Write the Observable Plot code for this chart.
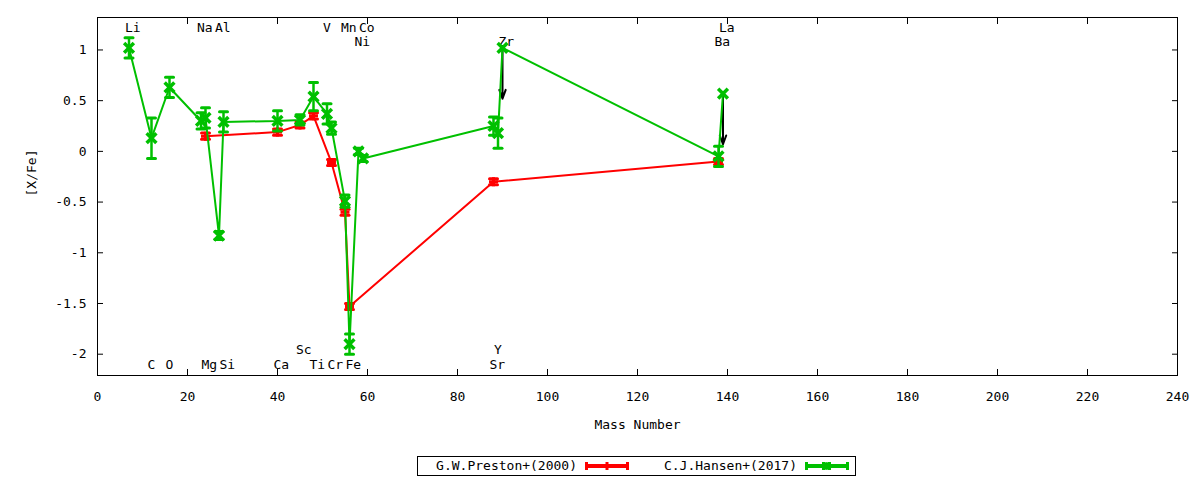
<!DOCTYPE html>
<html>
<head>
<meta charset="utf-8">
<script src="https://cdn.jsdelivr.net/npm/d3@7"></script>
<script src="https://cdn.jsdelivr.net/npm/@observablehq/plot@0.6"></script>
<style>
  body { margin: 0; background: #fff; font-family: "DejaVu Sans Mono", monospace; }
  #wrap { position: relative; width: 1200px; height: 480px; background: #fff; }
  #chart { position: absolute; left: 0; top: 0; }
  .lg-box { position: absolute; left: 417px; top: 456px; width: 439px; height: 20px; border: 1px solid #000; box-sizing: border-box; }
  .lg-text { position: absolute; top: 456px; height: 20px; line-height: 20px; font-size: 13px; color: #000; white-space: nowrap; }
  .lg-sample { position: absolute; top: 459px; }
</style>
</head>
<body>
<div id="wrap"><div id="chart"></div></div>
<script>
// ---- Data ----
// C.J.Hansen+(2017)
const hansenElem = ["Li","C","O","Na","Mg","Al","Si","Ca","Sc","Ti","V","Cr","Mn","Fe","Ni","Co","Sr","Y","Zr","Ba","La"];
const hansenMass = [7,12,16,23,24,27,28,40,45,48,51,52,55,56,58,59,88,89,90,138,139];
const hansenVal  = [1.02,0.13,0.63,0.30,0.33,-0.83,0.29,0.30,0.31,0.54,0.37,0.23,-0.49,-1.90,0.00,-0.07,0.25,0.18,1.02,-0.05,0.57];
const hansenErr  = [0.10,0.20,0.10,0.08,0.10,0.04,0.10,0.10,0.05,0.14,0.10,0.06,0.06,0.10,0.03,0.03,0.09,0.15,0,0.10,0];
// upper limits (drawn with a downward arrow)
const limitElem = ["Zr","La"];
const limitArrowLength = 0.5;

// G.W.Preston+(2000)
const prestonElem = ["Mg","Ca","Sc","Ti","Cr","Mn","Fe","Sr","Ba"];
const prestonMass = [24,40,45,48,52,55,56,88,138];
const prestonVal  = [0.15,0.19,0.26,0.35,-0.11,-0.60,-1.53,-0.30,-0.10];
const prestonErr  = [0.03,0.03,0.03,0.03,0.03,0.03,0.03,0.03,0.03];

// element labels
const labelText = ["Li","Na","Al","V","Mn","Co","La","Ni","Zr","Ba","C","O","Mg","Si","Ca","Ti","Cr","Fe","Sr","Sc","Y"];
const labelMass = [7,23,27,51,55,59,139,58,90,138,12,16,24,28,40,48,52,56,88,45,89];
const labelY    = [1.22,1.22,1.22,1.22,1.22,1.22,1.22,1.08,1.08,1.08,-2.1,-2.1,-2.1,-2.1,-2.1,-2.1,-2.1,-2.1,-2.1,-1.96,-1.96];

// ticks
const xTicks = [0,20,40,60,80,100,120,140,160,180,200,220,240];
const yTicks = [1,0.5,0,-0.5,-1,-1.5,-2];

const seriesNames = ["G.W.Preston+(2000)", "C.J.Hansen+(2017)"];
const RED = "#ff0000", GREEN = "#00c000";

// ---- Build tables ----
const hansen = hansenElem.map((el, i) => ({el, m: hansenMass[i], v: hansenVal[i], e: hansenErr[i]}));
const preston = prestonElem.map((el, i) => ({el, m: prestonMass[i], v: prestonVal[i], e: prestonErr[i]}));
const limits = hansen.filter(d => limitElem.includes(d.el));
const labels = labelText.map((t, i) => ({t, m: labelMass[i], y: labelY[i]}));

const capShape = { draw(ctx, l) { ctx.moveTo(-l / 2, 0); ctx.lineTo(l / 2, 0); } };

function seriesMarks(data, color, symbol, r, sw) {
  const withErr = data.filter(d => d.e > 0);
  return [
    Plot.line(data, {x: "m", y: "v", stroke: color, strokeWidth: 2}),
    Plot.ruleX(withErr, {x: "m", y1: d => d.v - d.e, y2: d => d.v + d.e, stroke: color, strokeWidth: 2.5}),
    Plot.vector(withErr, {x: "m", y: d => d.v + d.e, length: 8, shape: capShape, anchor: "start", stroke: color, strokeWidth: 3}),
    Plot.vector(withErr, {x: "m", y: d => d.v - d.e, length: 8, shape: capShape, anchor: "start", stroke: color, strokeWidth: 3}),
    Plot.dot(data, {x: "m", y: "v", symbol, r, stroke: color, strokeWidth: sw})
  ];
}

const chart = Plot.plot({
  width: 1200,
  height: 448,
  marginLeft: 97,
  marginRight: 23,
  marginTop: 17,
  marginBottom: 73,
  style: {fontFamily: "DejaVu Sans Mono", fontSize: "13px", color: "#000", background: "#fff", overflow: "visible"},
  x: {domain: [0, 240]},
  y: {domain: [-2.21, 1.32]},
  marks: [
    Plot.axisX(xTicks, {anchor: "bottom", tickSize: -6, tickPadding: 22, label: null, tickFormat: d => String(d)}),
    Plot.axisX(xTicks, {anchor: "top", tickSize: -6, label: null, tickFormat: () => ""}),
    Plot.axisY(yTicks, {anchor: "left", tickSize: -6, tickPadding: 17, label: null, tickFormat: d => String(d)}),
    Plot.axisY(yTicks, {anchor: "right", tickSize: -6, label: null, tickFormat: () => ""}),
    Plot.text(["Mass Number"], {frameAnchor: "bottom", dy: 53, text: d => d, fill: "#000"}),
    Plot.text(["[X/Fe]"], {frameAnchor: "left", dx: -66, rotate: -90, text: d => d, fill: "#000"}),
    Plot.text(labels, {x: "m", y: "y", text: "t", textAnchor: "start", dx: -4, fill: "#000"}),
    ...seriesMarks(preston, RED, "plus", 3, 3),
    Plot.arrow(limits, {x1: "m", x2: "m", y1: "v", y2: d => d.v - limitArrowLength, stroke: "#000", strokeWidth: 2, headLength: 7, headAngle: 40}),
    ...seriesMarks(hansen, GREEN, "times", 4.5, 3.5),
    Plot.frame({stroke: "#000", strokeWidth: 1})
  ]
});
document.getElementById("chart").appendChild(chart);

// ---- Legend (below the SVG) ----
const wrap = document.getElementById("wrap");
const box = document.createElement("div");
box.className = "lg-box";
wrap.appendChild(box);

function sample(color, marker) {
  const ns = "http://www.w3.org/2000/svg";
  const svg = document.createElementNS(ns, "svg");
  svg.setAttribute("width", 44); svg.setAttribute("height", 14);
  svg.setAttribute("class", "lg-sample");
  const mk = (x1, y1, x2, y2, w) => {
    const l = document.createElementNS(ns, "line");
    l.setAttribute("x1", x1); l.setAttribute("y1", y1); l.setAttribute("x2", x2); l.setAttribute("y2", y2);
    l.setAttribute("stroke", color); l.setAttribute("stroke-width", w);
    svg.appendChild(l);
  };
  mk(0, 7, 44, 7, 4);
  mk(1.5, 3, 1.5, 11, 3);
  mk(42.5, 3, 42.5, 11, 3);
  if (marker === "plus") { mk(22, 3, 22, 11, 3); }
  else { mk(18.5, 3, 18.5, 11, 3); mk(24.5, 3, 24.5, 11, 3); mk(20, 3.5, 23, 10.5, 3); mk(23, 3.5, 20, 10.5, 3); }
  return svg;
}
const items = [
  {name: seriesNames[0], textRight: 577, sampleLeft: 585, color: RED, marker: "plus"},
  {name: seriesNames[1], textRight: 797, sampleLeft: 805, color: GREEN, marker: "times"}
];
for (const it of items) {
  const t = document.createElement("div");
  t.className = "lg-text";
  t.textContent = it.name;
  t.style.right = (1200 - it.textRight) + "px";
  wrap.appendChild(t);
  const s = sample(it.color, it.marker);
  s.style.left = it.sampleLeft + "px";
  wrap.appendChild(s);
}
</script>
</body>
</html>
